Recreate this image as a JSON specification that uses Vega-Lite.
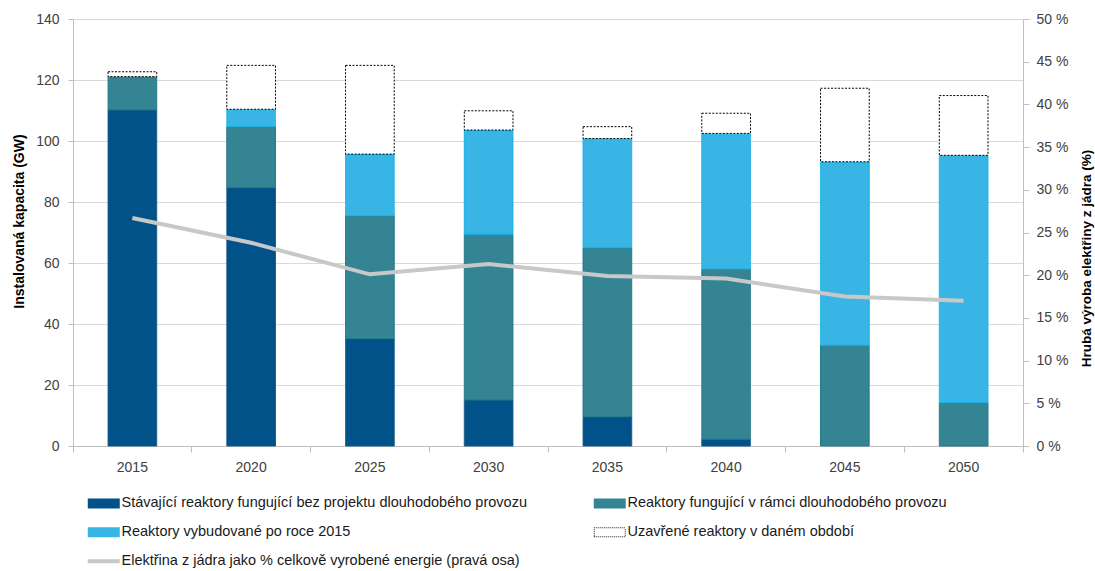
{
  "$schema": "https://vega.github.io/schema/vega-lite/v6.json",
  "width": 950,
  "height": 427,
  "autosize": "none",
  "padding": {"left": 73, "top": 19, "right": 72, "bottom": 125},
  "background": "white",
  "config": {
    "view": {"stroke": null},
    "font": "Liberation Sans",
    "axis": {
      "domainColor": "#bfbfbf",
      "tickColor": "#bfbfbf",
      "gridColor": "#d9d9d9",
      "labelFontSize": 14,
      "labelColor": "#404040",
      "titleFontSize": 14,
      "titleFontWeight": "bold",
      "titleColor": "#000000"
    },
    "legend": {
      "orient": "none",
      "legendX": 23.5,
      "legendY": 477,
      "direction": "horizontal",
      "columns": 2,
      "padding": 0,
      "symbolType": "M-1.6,-0.5H1.6V0.5H-1.6Z",
      "symbolSize": 400,
      "labelFontSize": 14.5,
      "labelColor": "#1a1a1a",
      "labelOffset": 10.5,
      "labelLimit": 0,
      "rowPadding": 14,
      "columnPadding": 66
    }
  },
  "datasets": {
    "bars": [
      {"year": "2015", "series": "Stávající reaktory fungující bez projektu dlouhodobého provozu", "o": 1, "value": 110.2},
      {"year": "2015", "series": "Reaktory fungující v rámci dlouhodobého provozu", "o": 2, "value": 10.9},
      {"year": "2015", "series": "Uzavřené reaktory v daném období", "o": 4, "value": 1.6},
      {"year": "2020", "series": "Stávající reaktory fungující bez projektu dlouhodobého provozu", "o": 1, "value": 84.7},
      {"year": "2020", "series": "Reaktory fungující v rámci dlouhodobého provozu", "o": 2, "value": 20.0},
      {"year": "2020", "series": "Reaktory vybudované po roce 2015", "o": 3, "value": 5.7},
      {"year": "2020", "series": "Uzavřené reaktory v daném období", "o": 4, "value": 14.4},
      {"year": "2025", "series": "Stávající reaktory fungující bez projektu dlouhodobého provozu", "o": 1, "value": 35.2},
      {"year": "2025", "series": "Reaktory fungující v rámci dlouhodobého provozu", "o": 2, "value": 40.3},
      {"year": "2025", "series": "Reaktory vybudované po roce 2015", "o": 3, "value": 20.2},
      {"year": "2025", "series": "Uzavřené reaktory v daném období", "o": 4, "value": 29.1},
      {"year": "2030", "series": "Stávající reaktory fungující bez projektu dlouhodobého provozu", "o": 1, "value": 15.1},
      {"year": "2030", "series": "Reaktory fungující v rámci dlouhodobého provozu", "o": 2, "value": 54.3},
      {"year": "2030", "series": "Reaktory vybudované po roce 2015", "o": 3, "value": 34.2},
      {"year": "2030", "series": "Uzavřené reaktory v daném období", "o": 4, "value": 6.3},
      {"year": "2035", "series": "Stávající reaktory fungující bez projektu dlouhodobého provozu", "o": 1, "value": 9.6},
      {"year": "2035", "series": "Reaktory fungující v rámci dlouhodobého provozu", "o": 2, "value": 55.4},
      {"year": "2035", "series": "Reaktory vybudované po roce 2015", "o": 3, "value": 35.8},
      {"year": "2035", "series": "Uzavřené reaktory v daném období", "o": 4, "value": 3.9},
      {"year": "2040", "series": "Stávající reaktory fungující bez projektu dlouhodobého provozu", "o": 1, "value": 2.2},
      {"year": "2040", "series": "Reaktory fungující v rámci dlouhodobého provozu", "o": 2, "value": 55.8},
      {"year": "2040", "series": "Reaktory vybudované po roce 2015", "o": 3, "value": 44.5},
      {"year": "2040", "series": "Uzavřené reaktory v daném období", "o": 4, "value": 6.6},
      {"year": "2045", "series": "Reaktory fungující v rámci dlouhodobého provozu", "o": 2, "value": 33.0},
      {"year": "2045", "series": "Reaktory vybudované po roce 2015", "o": 3, "value": 60.2},
      {"year": "2045", "series": "Uzavřené reaktory v daném období", "o": 4, "value": 24.1},
      {"year": "2050", "series": "Reaktory fungující v rámci dlouhodobého provozu", "o": 2, "value": 14.2},
      {"year": "2050", "series": "Reaktory vybudované po roce 2015", "o": 3, "value": 81.1},
      {"year": "2050", "series": "Uzavřené reaktory v daném období", "o": 4, "value": 19.6}
    ],
    "line": [
      {"year": "2015", "pct": 26.7},
      {"year": "2020", "pct": 23.8},
      {"year": "2025", "pct": 20.1},
      {"year": "2030", "pct": 21.3},
      {"year": "2035", "pct": 19.9},
      {"year": "2040", "pct": 19.6},
      {"year": "2045", "pct": 17.5},
      {"year": "2050", "pct": 17.0}
    ]
  },
  "layer": [
    {
      "data": {"name": "bars"},
      "mark": {"type": "bar", "width": {"band": 0.41}, "strokeWidth": 1},
      "encoding": {
        "x": {
          "field": "year",
          "type": "nominal",
          "scale": {"paddingInner": 0, "paddingOuter": 0},
          "axis": {
            "title": null,
            "labelAngle": 0,
            "bandPosition": 1,
            "tickExtra": true,
            "tickSize": 6,
            "labelPadding": 8,
            "grid": false
          }
        },
        "y": {
          "field": "value",
          "type": "quantitative",
          "stack": "zero",
          "scale": {"domain": [0, 140], "nice": false},
          "axis": {
            "title": "Instalovaná kapacita (GW)",
            "values": [0, 20, 40, 60, 80, 100, 120, 140],
            "grid": true,
            "tickSize": 5,
            "labelPadding": 9,
            "titlePadding": 9,
            "titleY": 202
          }
        },
        "color": {
          "field": "series",
          "type": "nominal",
          "condition": {"test": "datum.series === 'Uzavřené reaktory v daném období'", "value": "#ffffff"},
          "scale": {
            "domain": [
              "Stávající reaktory fungující bez projektu dlouhodobého provozu",
              "Reaktory fungující v rámci dlouhodobého provozu",
              "Reaktory vybudované po roce 2015",
              "Uzavřené reaktory v daném období",
              "Elektřina z jádra jako % celkově vyrobené energie (pravá osa)"
            ],
            "range": ["#005288", "#358494", "#38b5e5", "#222222", "#c8c8c8"]
          },
          "legend": {
            "title": null,
            "encode": {
              "symbols": {
                "update": {
                  "shape": {"signal": "(datum.index === 4) ? 'M-1.6,0H1.6' : ((datum.index === 3) ? 'M-1.6,-0.5h0.1v0.1h-0.1zm0.2,0h0.1v0.1h-0.1zm0.2,0h0.1v0.1h-0.1zm0.2,0h0.1v0.1h-0.1zm0.2,0h0.1v0.1h-0.1zm0.2,0h0.1v0.1h-0.1zm0.2,0h0.1v0.1h-0.1zm0.2,0h0.1v0.1h-0.1zm0.2,0h0.1v0.1h-0.1zm0.2,0h0.1v0.1h-0.1zm0.2,0h0.1v0.1h-0.1zm0.2,0h0.1v0.1h-0.1zm0.2,0h0.1v0.1h-0.1zm0.2,0h0.1v0.1h-0.1zm0.2,0h0.1v0.1h-0.1zm0.2,0h0.1v0.1h-0.1zM-1.6,0.4h0.1v0.1h-0.1zm0.2,0h0.1v0.1h-0.1zm0.2,0h0.1v0.1h-0.1zm0.2,0h0.1v0.1h-0.1zm0.2,0h0.1v0.1h-0.1zm0.2,0h0.1v0.1h-0.1zm0.2,0h0.1v0.1h-0.1zm0.2,0h0.1v0.1h-0.1zm0.2,0h0.1v0.1h-0.1zm0.2,0h0.1v0.1h-0.1zm0.2,0h0.1v0.1h-0.1zm0.2,0h0.1v0.1h-0.1zm0.2,0h0.1v0.1h-0.1zm0.2,0h0.1v0.1h-0.1zm0.2,0h0.1v0.1h-0.1zm0.2,0h0.1v0.1h-0.1zM-1.6,-0.3h0.1v0.1h-0.1zm0,0.2h0.1v0.1h-0.1zm0,0.2h0.1v0.1h-0.1zm0,0.2h0.1v0.1h-0.1zM1.5,-0.3h0.1v0.1h-0.1zm0,0.2h0.1v0.1h-0.1zm0,0.2h0.1v0.1h-0.1zm0,0.2h0.1v0.1h-0.1z' : 'M-1.6,-0.5H1.6V0.5H-1.6Z')"},
                  "stroke": {"signal": "(datum.index === 4) ? '#c8c8c8' : 'transparent'"},
                  "strokeWidth": {"signal": "(datum.index === 4) ? 4 : 0"},
                  "opacity": {"value": 1}
                }
              }
            }
          }
        },
        "stroke": {
          "field": "series",
          "type": "nominal",
          "scale": {
            "domain": [
              "Stávající reaktory fungující bez projektu dlouhodobého provozu",
              "Reaktory fungující v rámci dlouhodobého provozu",
              "Reaktory vybudované po roce 2015",
              "Uzavřené reaktory v daném období"
            ],
            "range": ["#1a5a8a", "#1f7a85", "#14b0e8", "#000000"]
          },
          "legend": null
        },
        "strokeDash": {
          "condition": {"test": "datum.series === 'Uzavřené reaktory v daném období'", "value": [2, 1.5]},
          "value": [1, 0]
        },
        "order": {"field": "o", "type": "quantitative"}
      }
    },
    {
      "data": {"name": "line"},
      "mark": {"type": "line", "strokeWidth": 4},
      "encoding": {
        "x": {"field": "year", "type": "nominal"},
        "y": {
          "field": "pct",
          "type": "quantitative",
          "scale": {"domain": [0, 50], "nice": false},
          "axis": {
            "orient": "right",
            "title": "Hrubá výroba elektřiny z jádra (%)",
            "values": [0, 5, 10, 15, 20, 25, 30, 35, 40, 45, 50],
            "labelExpr": "datum.value + ' %'",
            "grid": false,
            "tickSize": 6,
            "labelPadding": 7,
            "titlePadding": 12,
            "titleFontSize": 13.5,
            "titleAngle": 270,
            "titleBaseline": "top",
            "titleY": 239
          }
        },
        "color": {
          "datum": "Elektřina z jádra jako % celkově vyrobené energie (pravá osa)",
          "type": "nominal"
        }
      }
    }
  ],
  "resolve": {"scale": {"y": "independent"}}
}
